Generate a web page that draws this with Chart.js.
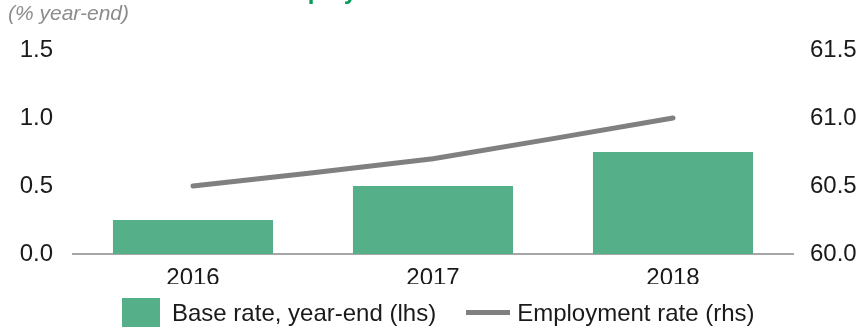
<!DOCTYPE html>
<html>
<head>
<meta charset="utf-8">
<title>Base rate and employment</title>
<script src="https://cdn.jsdelivr.net/npm/chart.js@4/dist/chart.umd.min.js"></script>
<style>
    html, body { margin: 0; padding: 0; background: #fff; overflow: hidden; }
    #wrap { position: relative; width: 865px; height: 330px; font-family: 'Liberation Sans', Arial, sans-serif; }
    #chart { position: absolute; left: 0; top: 0; }
    .title { position: absolute; left: 109px; top: -21px; font-size: 24px; line-height: 24px; font-weight: bold; color: #0a9a5c; white-space: nowrap; }
    .unit { position: absolute; left: 8px; top: 1px; font-size: 21px; font-style: italic; color: #8c8c8c; }
    .legend { position: absolute; left: 122px; top: 298px; display: flex; align-items: center; font-size: 24px; line-height: 29px; color: #1a1a1a; }
    .legend .box { width: 38px; height: 29px; background: #55b08a; margin-right: 12px; }
    .legend .line { width: 44px; height: 5px; background: #808080; margin-left: 30px; margin-right: 7px; }
</style>
</head>
<body>
<div id="wrap">
    <canvas id="chart" width="865" height="330"></canvas>
    <div class="title">Base rate and employment</div>
    <div class="unit">(% year-end)</div>
    <div class="legend">
        <span class="box"></span><span>Base rate, year-end (lhs)</span>
        <span class="line"></span><span>Employment rate (rhs)</span>
    </div>
</div>
<script>
// data
const years = ['2016', '2017', '2018'];
const baseRate = [0.25, 0.5, 0.75];
const employmentRate = [60.5, 60.7, 61.0];

const tickFont = { family: 'Liberation Sans', size: 24 };
const tickColor = '#1a1a1a';

const ctx = document.getElementById('chart').getContext('2d');
const chart = new Chart(ctx, {
    data: {
        labels: years,
        datasets: [
            {
                type: 'line',
                label: 'Employment rate (rhs)',
                data: employmentRate,
                yAxisID: 'yRight',
                borderColor: '#808080',
                borderWidth: 5,
                borderCapStyle: 'round',
                pointRadius: 0,
                tension: 0.1,
                fill: false,
                order: 0
            },
            {
                type: 'bar',
                label: 'Base rate, year-end (lhs)',
                data: baseRate,
                yAxisID: 'yLeft',
                backgroundColor: '#55b08a',
                categoryPercentage: 1,
                barPercentage: 0.667,
                order: 1
            }
        ]
    },
    options: {
        responsive: false,
        animation: false,
        layout: {
            padding: { top: 50, bottom: 46, left: 0, right: 0 }
        },
        plugins: {
            legend: { display: false },
            tooltip: { enabled: false }
        },
        scales: {
            x: {
                grid: { display: false, drawTicks: false },
                border: { display: true, color: '#a6a6a6', width: 2 },
                ticks: { color: tickColor, font: tickFont, padding: 10 },
                afterFit: scale => { scale.height = 30; }
            },
            yLeft: {
                position: 'left',
                min: 0,
                max: 1.5,
                grid: { display: false, drawTicks: false },
                border: { display: false },
                ticks: {
                    stepSize: 0.5,
                    color: tickColor,
                    font: tickFont,
                    padding: 20,
                    callback: v => v.toFixed(1)
                },
                afterFit: scale => { scale.width = 73; }
            },
            yRight: {
                position: 'right',
                min: 60,
                max: 61.5,
                grid: { display: false, drawTicks: false },
                border: { display: false },
                ticks: {
                    stepSize: 0.5,
                    color: tickColor,
                    font: tickFont,
                    padding: 17,
                    callback: v => v.toFixed(1)
                },
                afterFit: scale => { scale.width = 72; }
            }
        }
    }
});
</script>
</body>
</html>
